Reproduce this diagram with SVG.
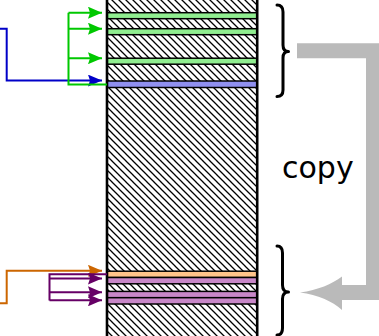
<svg xmlns="http://www.w3.org/2000/svg" width="379" height="336" viewBox="0 0 379 336">
  <defs>
    <pattern id="hatch" patternUnits="userSpaceOnUse" width="7" height="7">
      <path d="M-1,-1 L8,8 M-8,-1 L1,8 M6,-1 L15,8" stroke="#000" stroke-width="1.3"/>
    </pattern>
    <marker id="arrGreen" viewBox="0 0 14 12" refX="14" refY="6" markerWidth="14" markerHeight="12" markerUnits="userSpaceOnUse" orient="auto">
      <path d="M0,0 L14,6 L0,12 L2,6 Z" fill="#00c800"/>
    </marker>
    <marker id="arrBlue" viewBox="0 0 14 12" refX="14" refY="6" markerWidth="14" markerHeight="12" markerUnits="userSpaceOnUse" orient="auto">
      <path d="M0,0 L14,6 L0,12 L2,6 Z" fill="#0000c8"/>
    </marker>
    <marker id="arrOrange" viewBox="0 0 14 12" refX="14" refY="6" markerWidth="14" markerHeight="12" markerUnits="userSpaceOnUse" orient="auto">
      <path d="M0,0 L14,6 L0,12 L2,6 Z" fill="#cc6600"/>
    </marker>
    <marker id="arrPurple" viewBox="0 0 14 12" refX="14" refY="6" markerWidth="14" markerHeight="12" markerUnits="userSpaceOnUse" orient="auto">
      <path d="M0,0 L14,6 L0,12 L2,6 Z" fill="#660066"/>
    </marker>
  </defs>
  <style>
    .band { stroke: #000; stroke-width: 1.5; }
    .green { fill: #90ee90; }
    .blue { fill: #9090f0; }
    .orange { fill: #ffc48a; }
    .purple { fill: #c887c8; }
    .wire { fill: none; stroke-width: 2; }
    .brace { fill: none; stroke: #000; stroke-width: 3; stroke-linecap: round; stroke-linejoin: round; }
    .label { font-family: "DejaVu Sans", sans-serif; font-size: 30px; fill: #000; }
  </style>

  <!-- memory column -->
  <g id="memory">
    <rect x="107" y="-2" width="150" height="340" fill="#fff"/>
    <rect x="107" y="-2" width="150" height="340" fill="url(#hatch)"/>
    <g id="src-block">
      <rect class="band green" x="107" y="12.7" width="150" height="6"/>
      <rect class="band green" x="107" y="28.7" width="150" height="6"/>
      <rect class="band green" x="107" y="58.2" width="150" height="6"/>
      <rect class="band blue" x="107" y="81" width="150" height="6.5"/>
    </g>
    <g id="dst-block">
      <rect class="band orange" x="107" y="271.2" width="150" height="6.3"/>
      <rect class="band purple" x="107" y="277.5" width="150" height="6.3"/>
      <rect class="band purple" x="107" y="291.4" width="150" height="6.3"/>
      <rect class="band purple" x="107" y="297.7" width="150" height="6.3"/>
    </g>
    <line x1="107" y1="0" x2="107" y2="336" stroke="#000" stroke-width="2.6"/>
    <line x1="257.2" y1="0" x2="257.2" y2="336" stroke="#000" stroke-width="2.6"/>
  </g>

  <!-- pointers -->
  <g id="connectors">
    <path class="wire" stroke="#0000c8" d="M0,28.7 H6.7 V80.6 H102" marker-end="url(#arrBlue)"/>
    <path class="wire" stroke="#00c800" d="M107,84.5 H68.5 V12.7"/>
    <path class="wire" stroke="#00c800" d="M68.5,12.7 H102" marker-end="url(#arrGreen)"/>
    <path class="wire" stroke="#00c800" d="M68.5,28.7 H102" marker-end="url(#arrGreen)"/>
    <path class="wire" stroke="#00c800" d="M68.5,58.2 H102" marker-end="url(#arrGreen)"/>

    <path class="wire" stroke="#cc6600" d="M0,303.3 H6.7 V270.8 H102" marker-end="url(#arrOrange)"/>
    <path class="wire" stroke="#660066" d="M107,274.2 H49.5 V300.5"/>
    <path class="wire" stroke="#660066" d="M49.5,278.5 H102" marker-end="url(#arrPurple)"/>
    <path class="wire" stroke="#660066" d="M49.5,292.3 H102" marker-end="url(#arrPurple)"/>
    <path class="wire" stroke="#660066" d="M49.5,300.3 H102" marker-end="url(#arrPurple)"/>

    <!-- copy arrow -->
    <g id="copy-arrow" fill="#bababa">
      <path d="M297,50.8 H373.5 V292.5 H340" fill="none" stroke="#bababa" stroke-width="15"/>
      <path d="M300,292.5 C318,290 332,284 342,276.5 L342,310 C332,301 318,295 300,292.5 Z"/>
    </g>
  </g>

  <g id="braces">
    <path class="brace" d="M277,5 Q283,5 283,12 L283,45 Q283,51.5 288.5,51.5 Q283,51.5 283,58 L283,90 Q283,96.5 277,96.5"/>
    <path class="brace" d="M277,246 Q282.5,246 282.5,253 L282.5,285 Q282.5,292 288.5,292 Q282.5,292 282.5,299 L282.5,328 Q282.5,335 277,335"/>
  </g>

  <text class="label" x="282" y="178">copy</text>
</svg>
